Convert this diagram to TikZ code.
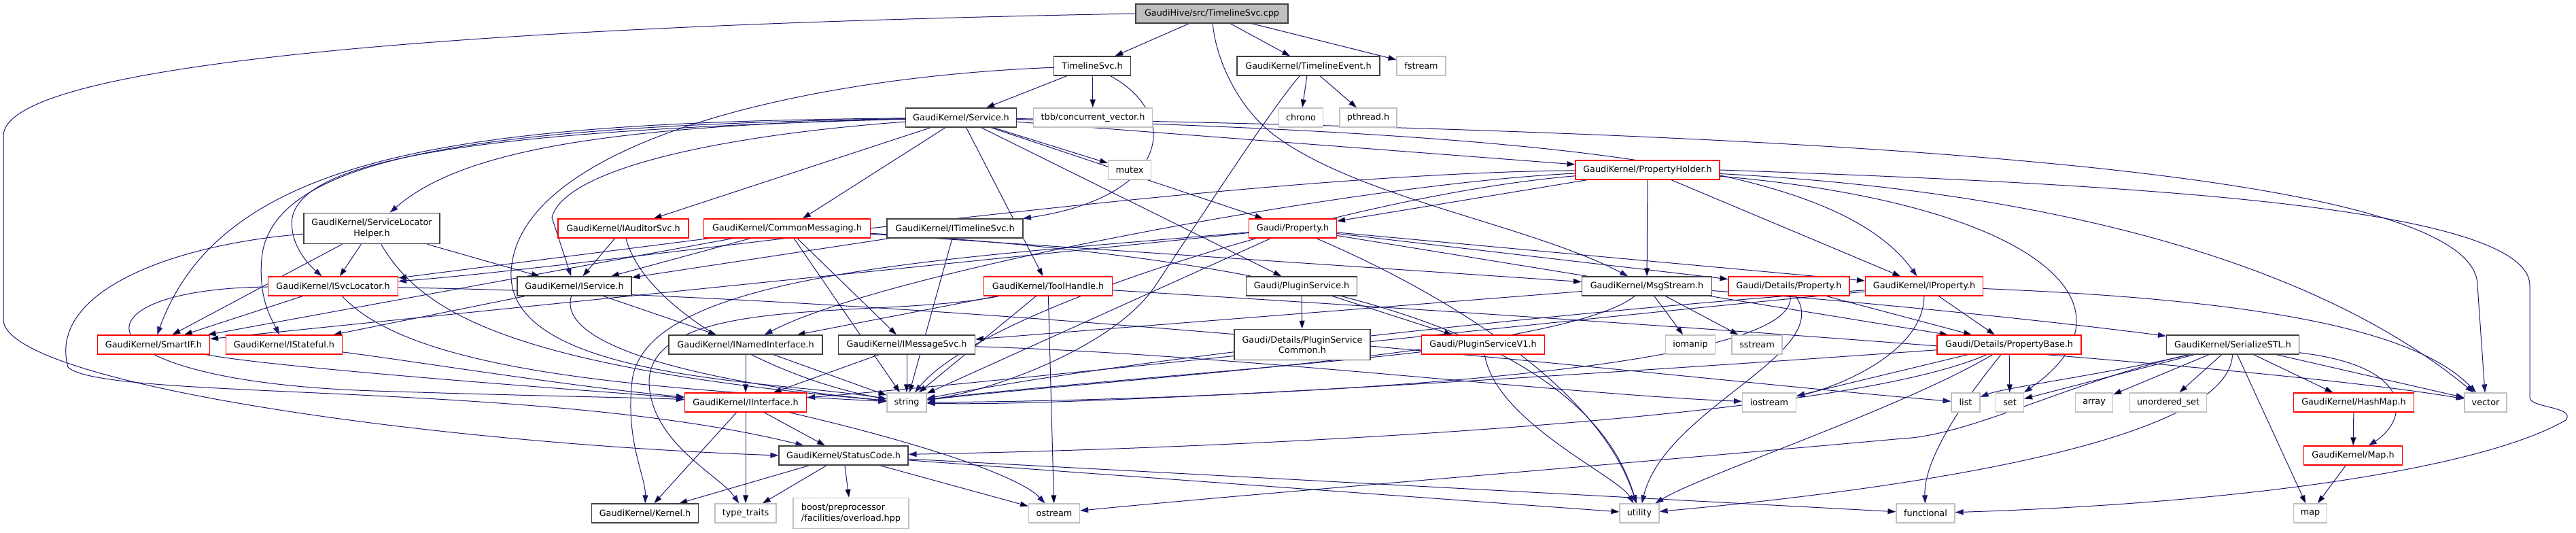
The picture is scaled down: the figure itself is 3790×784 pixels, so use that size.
\documentclass[tikz,border=0pt]{standalone}
\usepackage{fontspec}
\setmainfont{DejaVu Sans}
\usepackage{tikz}
\usetikzlibrary{arrows.meta, backgrounds}

\definecolor{edgeblue}{HTML}{191970}
\definecolor{grey75}{HTML}{BFBFBF}
\definecolor{boxline}{HTML}{404040}

\tikzset{
	header/.style={draw=boxline, fill=white, line width=0.9pt, inner sep=1pt,
		minimum height=21pt, align=center, font=\fontsize{9.6}{11.5}\selectfont},
	cut/.style={header, draw=red},
	stdlib/.style={header, draw=grey75},
	wd/.style={minimum width=#1*0.75pt},
	dep/.style={draw=edgeblue, line width=0.75pt, -{Triangle[length=9pt, width=6pt]}},
}

\begin{document}
\begin{tikzpicture}[x=0.75pt, y=-0.75pt]
		\useasboundingbox (0,0) rectangle (3790,784);
		
		\node[header, fill=grey75, wd=224] (cpp) at (1783,20) {GaudiHive/src/TimelineSvc.cpp};
		\node[header, wd=113] (tsvch) at (1607,97) {TimelineSvc.h};
		\node[header, wd=210] (tevent) at (1925,97) {GaudiKernel/TimelineEvent.h};
		\node[stdlib, wd=72] (fstream) at (2091,97) {fstream};
		\node[header, wd=163] (service) at (1414,173) {GaudiKernel/Service.h};
		\node[stdlib, wd=175] (tbb) at (1608,173) {tbb/concurrent\_vector.h};
		\node[stdlib, wd=65] (chrono) at (1914,173) {chrono};
		\node[stdlib, wd=84] (pthread) at (2013,173) {pthread.h};
		\node[stdlib, wd=63] (mutex) at (1662,250) {mutex};
		\node[cut, wd=212] (pholder) at (2424,250) {GaudiKernel/PropertyHolder.h};
		\node[header, wd=200, minimum height=34pt] (slhelper) at (547,336) {GaudiKernel/ServiceLocator\\Helper.h};
		\node[cut, wd=192] (auditor) at (917,336) {GaudiKernel/IAuditorSvc.h};
		\node[cut, wd=245] (cmsg) at (1158,336) {GaudiKernel/CommonMessaging.h};
		\node[header, wd=200] (itsvc) at (1405,336) {GaudiKernel/ITimelineSvc.h};
		\node[cut, wd=129] (property) at (1902,336) {Gaudi/Property.h};
		\node[cut, wd=191] (svcloc) at (490,421) {GaudiKernel/ISvcLocator.h};
		\node[header, wd=168] (iservice) at (845,421) {GaudiKernel/IService.h};
		\node[cut, wd=189] (toolh) at (1542,421) {GaudiKernel/ToolHandle.h};
		\node[header, wd=163] (plugin) at (1915,421) {Gaudi/PluginService.h};
		\node[header, wd=191] (msgstream) at (2423,421) {GaudiKernel/MsgStream.h};
		\node[cut, wd=178] (dproperty) at (2632,421) {Gaudi/Details/Property.h};
		\node[cut, wd=173] (iproperty) at (2831,421) {GaudiKernel/IProperty.h};
		\node[cut, wd=165] (smartif) at (226,507) {GaudiKernel/SmartIF.h};
		\node[cut, wd=171] (istateful) at (418,507) {GaudiKernel/IStateful.h};
		\node[header, wd=226] (inamed) at (1097,507) {GaudiKernel/INamedInterface.h};
		\node[header, wd=201] (imsgsvc) at (1334,507) {GaudiKernel/IMessageSvc.h};
		\node[header, wd=200, minimum height=34pt] (pscommon) at (1916,507) {Gaudi/Details/PluginService\\Common.h};
		\node[cut, wd=181] (psv1) at (2182,507) {Gaudi/PluginServiceV1.h};
		\node[stdlib, wd=73] (iomanip) at (2487,507) {iomanip};
		\node[stdlib, wd=74] (sstream) at (2585,507) {sstream};
		\node[cut, wd=212] (pbase) at (2956,507) {Gaudi/Details/PropertyBase.h};
		\node[header, wd=195] (sstl) at (3285,507) {GaudiKernel/SerializeSTL.h};
		\node[cut, wd=179] (iinterface) at (1097,592) {GaudiKernel/IInterface.h};
		\node[stdlib, wd=58] (string) at (1334,592) {string};
		\node[stdlib, wd=79] (iostream) at (2603,592) {iostream};
		\node[stdlib, wd=42] (list) at (2892,592) {list};
		\node[stdlib, wd=41] (set) at (2957,592) {set};
		\node[stdlib, wd=55] (array) at (3081,592) {array};
		\node[stdlib, wd=113] (uset) at (3190,592) {unordered\_set};
		\node[cut, wd=177] (hashmap) at (3463,592) {GaudiKernel/HashMap.h};
		\node[stdlib, wd=62] (vector) at (3657,592) {vector};
		\node[header, wd=190] (statuscode) at (1241,670) {GaudiKernel/StatusCode.h};
		\node[cut, wd=145] (maph) at (3462,670) {GaudiKernel/Map.h};
		\node[header, wd=157] (kernel) at (949,755) {GaudiKernel/Kernel.h};
		\node[stdlib, wd=90] (typetraits) at (1097,755) {type\_traits};
		\node[stdlib, wd=170, minimum height=34pt, align=left] (boost) at (1252,755) {boost/preprocessor\\/facilities/overload.hpp};
		\node[stdlib, wd=75] (ostream) at (1551,755) {ostream};
		\node[stdlib, wd=58] (utility) at (2412,755) {utility};
		\node[stdlib, wd=86] (functional) at (2833,755) {functional};
		\node[stdlib, wd=49] (map) at (3399,755) {map};
		
		\begin{scope}[on background layer]
		\path[dep] (cpp) edge (tsvch)
			(cpp) edge (tevent)
			(cpp) edge (fstream)
			(tsvch) edge (service)
			(tsvch) edge (tbb)
			(tevent) edge (chrono)
			(tevent) edge (pthread)
			(service) edge (auditor)
			(service) edge (cmsg)
			(service) edge (toolh)
			(service) edge (plugin)
			(service) edge (mutex)
			(service) edge (property)
			(service) edge (pholder)
			(slhelper) edge (smartif)
			(slhelper) edge (svcloc)
			(slhelper) edge (iservice)
			(auditor) edge (iservice)
			(cmsg) edge (svcloc)
			(cmsg) edge (smartif)
			(cmsg) edge (iservice)
			(cmsg) edge (imsgsvc)
			(cmsg) edge (msgstream)
			(cmsg) edge (string)
			(itsvc) edge (iservice)
			(itsvc) edge (string)
			(property) edge (dproperty)
			(property) edge (pbase)
			(property) edge (iproperty)
			(property) edge (smartif)
			(property) edge (string)
			(pholder) edge (property)
			(pholder) edge (msgstream)
			(pholder) edge (iproperty)
			(svcloc) edge (smartif)
			(iservice) edge (istateful)
			(iservice) edge (inamed)
			(toolh) edge (inamed)
			(toolh) edge (string)
			(toolh) edge (ostream)
			(plugin) edge (pscommon)
			(plugin) edge (psv1)
			(msgstream) edge (imsgsvc)
			(msgstream) edge (iomanip)
			(msgstream) edge (sstream)
			(dproperty) edge (pbase)
			(iproperty) edge (pbase)
			(inamed) edge (iinterface)
			(inamed) edge (string)
			(imsgsvc) edge (iinterface)
			(imsgsvc) edge (string)
			(pbase) edge (set)
			(pbase) edge (iostream)
			(sstl) edge (set)
			(sstl) edge (array)
			(sstl) edge (uset)
			(sstl) edge (hashmap)
			(sstl) edge (map)
			(sstl) edge (vector)
			(hashmap) edge (maph)
			(maph) edge (map)
			(iinterface) edge (kernel)
			(iinterface) edge (typetraits)
			(iinterface) edge (statuscode)
			(statuscode) edge (kernel)
			(statuscode) edge (typetraits)
			(statuscode) edge (boost)
			(statuscode) edge (ostream)
			(statuscode) edge (utility)
			(statuscode) edge (functional);
		
		% long splines round the sides
		\draw[dep] (cpp.west) .. controls (600,40) and (5,100) .. (5,200) -- (5,470) .. controls (5,560) and (600,650) .. (statuscode.west);
		\draw[dep] (pholder.east) .. controls (3100,270) and (3722,300) .. (3722,420) -- (3722,585) .. controls (3722,600) and (3790,598) .. (3775,618) .. controls (3650,690) and (3300,740) .. (functional);
		\draw[dep] (service) .. controls (2600,195) and (3645,240) .. (3645,420) -- (vector);
		
		\draw[dep] (cpp) .. controls (1788,80) and (1815,150) .. (1870,195) .. controls (1990,290) and (2250,330) .. (msgstream);
		\draw[dep] (tsvch) .. controls (1740,170) and (1720,290) .. (itsvc);
		\draw[dep] (tsvch) .. controls (1150,115) and (760,220) .. (752,400) .. controls (745,560) and (1150,560) .. (string);
		\draw[dep] (tevent) .. controls (1870,160) and (1760,330) .. (1700,420) .. controls (1640,510) and (1460,575) .. (string);
		\draw[dep] (service) .. controls (900,185) and (680,220) .. (slhelper);
		\draw[dep] (service) .. controls (700,180) and (330,220) .. (smartif);
		\draw[dep] (service) .. controls (750,185) and (400,220) .. (385,380) .. controls (380,440) and (400,470) .. (istateful);
		\draw[dep] (service) .. controls (800,190) and (450,220) .. (430,320) .. controls (425,360) and (455,390) .. (svcloc);
		\draw[dep] (service) .. controls (1050,200) and (830,250) .. (812,320) -- (iservice);
		\draw[dep] (service) .. controls (2300,200) and (2700,240) .. (iproperty);
		\draw[dep] (slhelper) .. controls (620,460) and (750,540) .. (string);
		\draw[dep] (slhelper) .. controls (250,360) and (70,430) .. (100,540) .. controls (150,590) and (800,560) .. (statuscode);
		\draw[dep] (auditor) .. controls (950,460) and (1150,560) .. (string);
		\draw[dep] (cmsg) .. controls (1900,380) and (2330,480) .. (utility);
		\draw[dep] (property) .. controls (1400,380) and (950,400) .. (930,560) .. controls (920,650) and (950,700) .. (kernel);
		\draw[dep] (property) .. controls (2100,420) and (2350,560) .. (utility);
		\draw[dep] (pholder) .. controls (3000,280) and (3400,380) .. (vector);
		\draw[dep] (pholder) .. controls (3000,300) and (3160,450) .. (set);
		\draw[dep] (pholder) .. controls (1800,255) and (900,390) .. (svcloc);
		\draw[dep] (pholder) .. controls (2000,270) and (1300,400) .. (inamed);
		\draw[dep] (pholder) .. controls (2000,285) and (1450,450) .. (string);
		\draw[dep] (svcloc) .. controls (100,425) and (100,560) .. (550,575) .. controls (800,583) and (950,585) .. (iinterface);
		\draw[dep] (svcloc) .. controls (600,540) and (900,570) .. (string);
		\draw[dep] (svcloc) .. controls (1500,440) and (2500,560) .. (list);
		\draw[dep] (iservice) .. controls (815,520) and (1100,570) .. (string);
		\draw[dep] (toolh) .. controls (1300,470) and (960,430) .. (955,560) .. controls (955,650) and (1060,700) .. (typetraits);
		\draw[dep] (toolh) .. controls (2500,480) and (3350,540) .. (vector);
		\draw[dep] (msgstream) .. controls (2700,440) and (3000,470) .. (sstl);
		\draw[dep] (msgstream) .. controls (2300,520) and (1600,560) .. (string);
		\draw[dep] (dproperty) .. controls (2700,520) and (2450,600) .. (utility);
		\draw[dep] (dproperty) .. controls (2650,560) and (1700,590) .. (string);
		\draw[dep] (iproperty) .. controls (2830,520) and (2700,570) .. (iostream);
		\draw[dep] (iproperty) .. controls (3300,440) and (3550,480) .. (vector);
		\draw[dep] (iproperty) .. controls (2400,450) and (1700,520) .. (string);
		\draw[dep] (iproperty) .. controls (2300,470) and (1500,560) .. (iinterface);
		\draw[dep] (smartif) .. controls (400,540) and (800,570) .. (iinterface);
		\draw[dep] (istateful) .. controls (600,530) and (850,570) .. (iinterface);
		\draw[dep] (imsgsvc) .. controls (1800,520) and (2300,580) .. (iostream);
		\draw[dep] (psv1) .. controls (1900,540) and (1500,570) .. (string);
		\draw[dep] (psv1) .. controls (2200,620) and (2380,700) .. (utility);
		\draw[dep] (pbase) .. controls (2880,600) and (2830,680) .. (functional);
		\draw[dep] (pbase) .. controls (2500,540) and (1600,600) .. (string);
		\draw[dep] (pbase) .. controls (2800,600) and (2500,700) .. (utility);
		\draw[dep] (pbase) .. controls (2700,620) and (1800,660) .. (statuscode);
		\draw[dep] (sstl) .. controls (3100,550) and (2950,570) .. (list);
		\draw[dep] (sstl) .. controls (3560,540) and (3540,620) .. (maph);
		\draw[dep] (sstl) .. controls (3050,560) and (2900,640) .. (2800,645) .. controls (2300,690) and (1800,730) .. (ostream);
		\draw[dep] (sstl) .. controls (3280,650) and (2800,720) .. (utility);
		\draw[dep] (iinterface) .. controls (1350,650) and (1500,700) .. (ostream);
		\end{scope}
	\end{tikzpicture}
\end{document}
